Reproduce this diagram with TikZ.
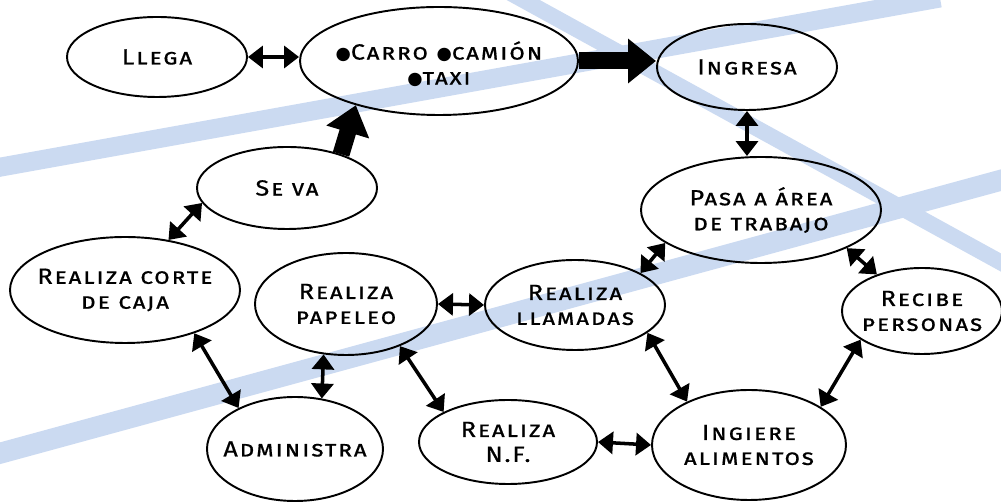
\documentclass[tikz,border=0pt]{standalone}
\usepackage{fontspec}
\newfontfamily\diagfont{Fira Sans}[Letters=SmallCaps,FakeStretch=1.15,FakeBold=0.6,LetterSpace=8]
\newfontfamily\blobfont{DejaVu Sans}
\usetikzlibrary{shapes.geometric,arrows.meta}
\definecolor{bandblue}{RGB}{203,218,241}
\newcommand{\blob}{{\blobfont\fontsize{10}{10}\selectfont ●}}
\tikzset{
  oval/.style 2 args={ellipse,draw,line width=1.1pt,inner xsep=-0.5cm,inner ysep=0pt,
    minimum width=#1*0.02cm,minimum height=#2*0.02cm,align=center,
    font=\diagfont\fontsize{12.5}{14.2}\selectfont},
  link/.style={{Triangle[length=0.3cm,width=0.44cm]}-{Triangle[length=0.3cm,width=0.44cm]},line width=2pt},
  bigarrow/.style={-{Triangle[length=0.56cm,width=0.86cm]},line width=0.34cm},
  band/.style={bandblue,line width=#1},
  band/.default=0.38cm
}
\begin{document}
\begin{tikzpicture}[x=0.02cm,y=-0.02cm]
  \useasboundingbox (0,0) rectangle (1001,502);
  \begin{scope}
    \clip (0,0) rectangle (1001,502);
    \draw[band] (-10,169) -- (940,-2);
    \draw[band=0.32cm] (505,-10) -- (1020,273);
    \draw[band=0.42cm] (-10,456) -- (1020,175);
  \end{scope}

  \node[oval={180}{80}] (llega) at (157,57) {Llega};
  \node[oval={278}{108},text height=28pt] (carro) at (439,61) {\blob Carro \blob camión\\\blob taxi};
  \node[oval={180}{86}] (ingresa) at (747,67) {Ingresa};
  \node[oval={180}{82}] (seva) at (287,188) {Se va};
  \node[oval={240}{106}] (pasa) at (761,210) {Pasa a área\\de trabajo};
  \node[oval={160}{86}] (recibe) at (922,311) {Recibe\\personas};
  \node[oval={180}{90}] (llamadas) at (575,305) {Realiza\\llamadas};
  \node[oval={182}{102}] (papeleo) at (346,304) {Realiza\\papeleo};
  \node[oval={230}{106}] (corte) at (125,290) {Realiza corte\\de caja};
  \node[oval={176}{104}] (administra) at (295,449) {Administra};
  \node[oval={178}{84}] (nf) at (508,442) {Realiza\\N.F.};
  \node[oval={194}{110}] (ingiere) at (749,445) {Ingiere\\alimentos};

  \draw[link] (llega.east) -- (llega.east -| carro.west);
  \draw[bigarrow] (carro.east) -- (carro.east -| ingresa.west);
  \draw[bigarrow] (seva.32) -- (carro.208);
  \draw[link] (ingresa.south) -- (ingresa.south |- pasa.north);
  \draw[link] (pasa.199) -- (llamadas.26);
  \draw[link] (pasa.336) -- (recibe.141);
  \draw[link] (recibe.205) -- (ingiere.28);
  \draw[link] (llamadas.339) -- (ingiere.145);
  \draw[link] (papeleo.east) -- (llamadas.west);
  \draw[link] (nf.east) -- (ingiere.west);
  \draw[link] (papeleo.322) -- (nf.155);
  \draw[link] (papeleo.246) -- (administra.62);
  \draw[link] (corte.328) -- (administra.144);
  \draw[link] (seva.190) -- (corte.49);
\end{tikzpicture}
\end{document}
